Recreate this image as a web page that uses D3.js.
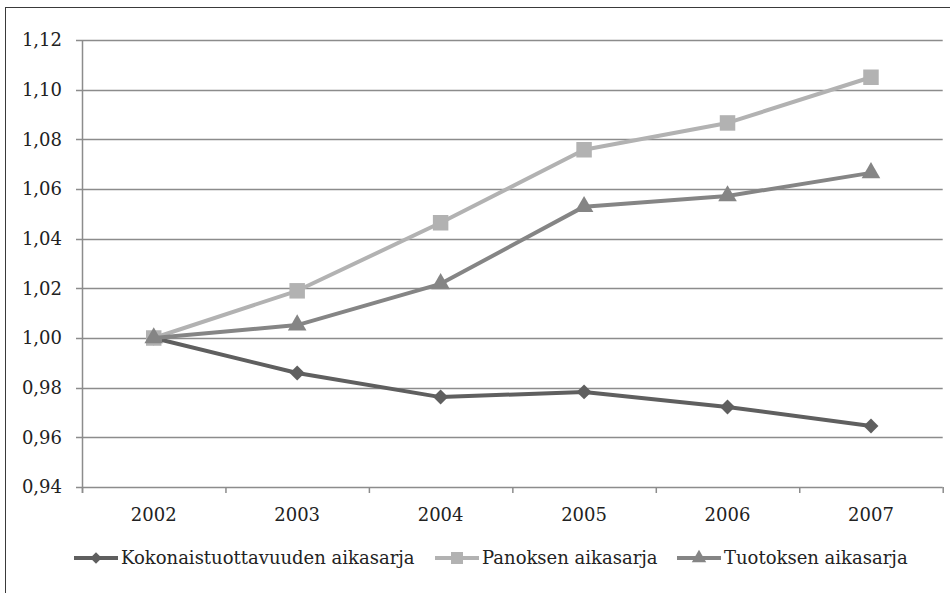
<!DOCTYPE html>
<html>
<head>
<meta charset="utf-8">
<script src="https://cdn.jsdelivr.net/npm/d3@7/dist/d3.min.js"></script>
<style>
  body { margin: 0; background: #fff; }
  text { font-family: "DejaVu Serif", serif; fill: #222; }
</style>
</head>
<body>
<div id="chart"></div>
<script>
var years = ["2002", "2003", "2004", "2005", "2006", "2007"];
var yTicks = [0.94, 0.96, 0.98, 1.00, 1.02, 1.04, 1.06, 1.08, 1.10, 1.12];

var kokonais = [1.000, 0.9859, 0.9762, 0.9783, 0.9722, 0.9646];
var panos = [1.000, 1.0190, 1.0464, 1.0758, 1.0866, 1.1050];
var tuotos = [1.000, 1.0052, 1.0218, 1.0529, 1.0572, 1.0665];

var seriesNames = ["Kokonaistuottavuuden aikasarja", "Panoksen aikasarja", "Tuotoksen aikasarja"];

var width = 950, height = 593;
var margin = { top: 40, left: 82, right: 7, bottom: 106 };

var svg = d3.select('#chart')
    .append('svg')
    .attr('width', width)
    .attr('height', height);

// outer frame (runs off the right/bottom edge like the reference)
svg.append('rect')
    .attr('x', 5.5).attr('y', 7.5)
    .attr('width', 980).attr('height', 620)
    .attr('fill', 'none')
    .attr('stroke', '#3a3a3a')
    .attr('stroke-width', 1);

var x = d3.scaleBand()
    .domain(years)
    .range([margin.left, width - margin.right - 0.3])
    .padding(0);

var y = d3.scaleLinear()
    .domain([0.94, 1.12])
    .range([height - margin.bottom, margin.top]);

var fmt = function(v) { return d3.format('.2f')(v).replace('.', ','); };

// gridlines
svg.append('g')
    .selectAll('line')
    .data(yTicks)
    .enter().append('line')
    .attr('x1', margin.left - 6)
    .attr('x2', x.range()[1])
    .attr('y1', function(d) { return Math.round(y(d)) + 0.5; })
    .attr('y2', function(d) { return Math.round(y(d)) + 0.5; })
    .attr('stroke', '#8c8c8c')
    .attr('stroke-width', 1.5);

// y labels
svg.append('g')
    .selectAll('text')
    .data(yTicks)
    .enter().append('text')
    .attr('x', 62)
    .attr('y', function(d) { return y(d); })
    .attr('dy', '0.35em')
    .attr('text-anchor', 'end')
    .attr('font-size', 18)
    .text(fmt);

// y axis line
svg.append('line')
    .attr('x1', margin.left + 0.5).attr('x2', margin.left + 0.5)
    .attr('y1', y(1.12)).attr('y2', y(0.94) + 6)
    .attr('stroke', '#8c8c8c')
    .attr('stroke-width', 1.5);

// x tick marks at band edges
var edges = years.map(function(d) { return x(d); }).concat([x.range()[1]]);
svg.append('g')
    .selectAll('line')
    .data(edges)
    .enter().append('line')
    .attr('x1', function(d) { return d + 0.5; })
    .attr('x2', function(d) { return d + 0.5; })
    .attr('y1', y(0.94))
    .attr('y2', y(0.94) + 6)
    .attr('stroke', '#8c8c8c')
    .attr('stroke-width', 1.5);

// x labels
svg.append('g')
    .selectAll('text')
    .data(years)
    .enter().append('text')
    .attr('x', function(d) { return x(d) + x.bandwidth() / 2; })
    .attr('y', 521)
    .attr('text-anchor', 'middle')
    .attr('font-size', 18)
    .text(function(d) { return d; });

// diamond = square turned 45 degrees
var series = [
    { name: seriesNames[0], values: kokonais, color: '#5f5f5f', shape: d3.symbolSquare, size: 112, rot: 45 },
    { name: seriesNames[1], values: panos, color: '#b2b2b2', shape: d3.symbolSquare, size: 240, rot: 0 },
    { name: seriesNames[2], values: tuotos, color: '#858585', shape: d3.symbolTriangle, size: 150, rot: 0 }
];

var line = d3.line()
    .x(function(d, i) { return x(years[i]) + x.bandwidth() / 2; })
    .y(function(d) { return y(d); });

series.forEach(function(s) {
    var g = svg.append('g');
    g.append('path')
        .attr('d', line(s.values))
        .attr('fill', 'none')
        .attr('stroke', s.color)
        .attr('stroke-width', 4)
        .attr('stroke-linejoin', 'round');
    g.selectAll('path.m')
        .data(s.values)
        .enter().append('path')
        .attr('class', 'm')
        .attr('d', d3.symbol().type(s.shape).size(s.size))
        .attr('transform', function(d, i) {
            return 'translate(' + (x(years[i]) + x.bandwidth() / 2) + ',' + y(d) + ') rotate(' + s.rot + ')';
        })
        .attr('fill', s.color);
});

// legend
var legendX = [74, 435, 677];
var legend = svg.append('g')
    .selectAll('g')
    .data(series)
    .enter().append('g')
    .attr('transform', function(d, i) { return 'translate(' + legendX[i] + ',558)'; });

legend.append('line')
    .attr('x1', 0).attr('x2', 44)
    .attr('y1', 0).attr('y2', 0)
    .attr('stroke', function(d) { return d.color; })
    .attr('stroke-width', 4);

legend.append('path')
    .attr('d', function(d) { return d3.symbol().type(d.shape).size(d.size * 0.6)(); })
    .attr('transform', function(d) { return 'translate(22,0) rotate(' + d.rot + ')'; })
    .attr('fill', function(d) { return d.color; });

legend.append('text')
    .attr('x', 47)
    .attr('y', 0)
    .attr('dy', '0.35em')
    .attr('font-size', 18)
    .text(function(d) { return d.name; });
</script>
</body>
</html>
